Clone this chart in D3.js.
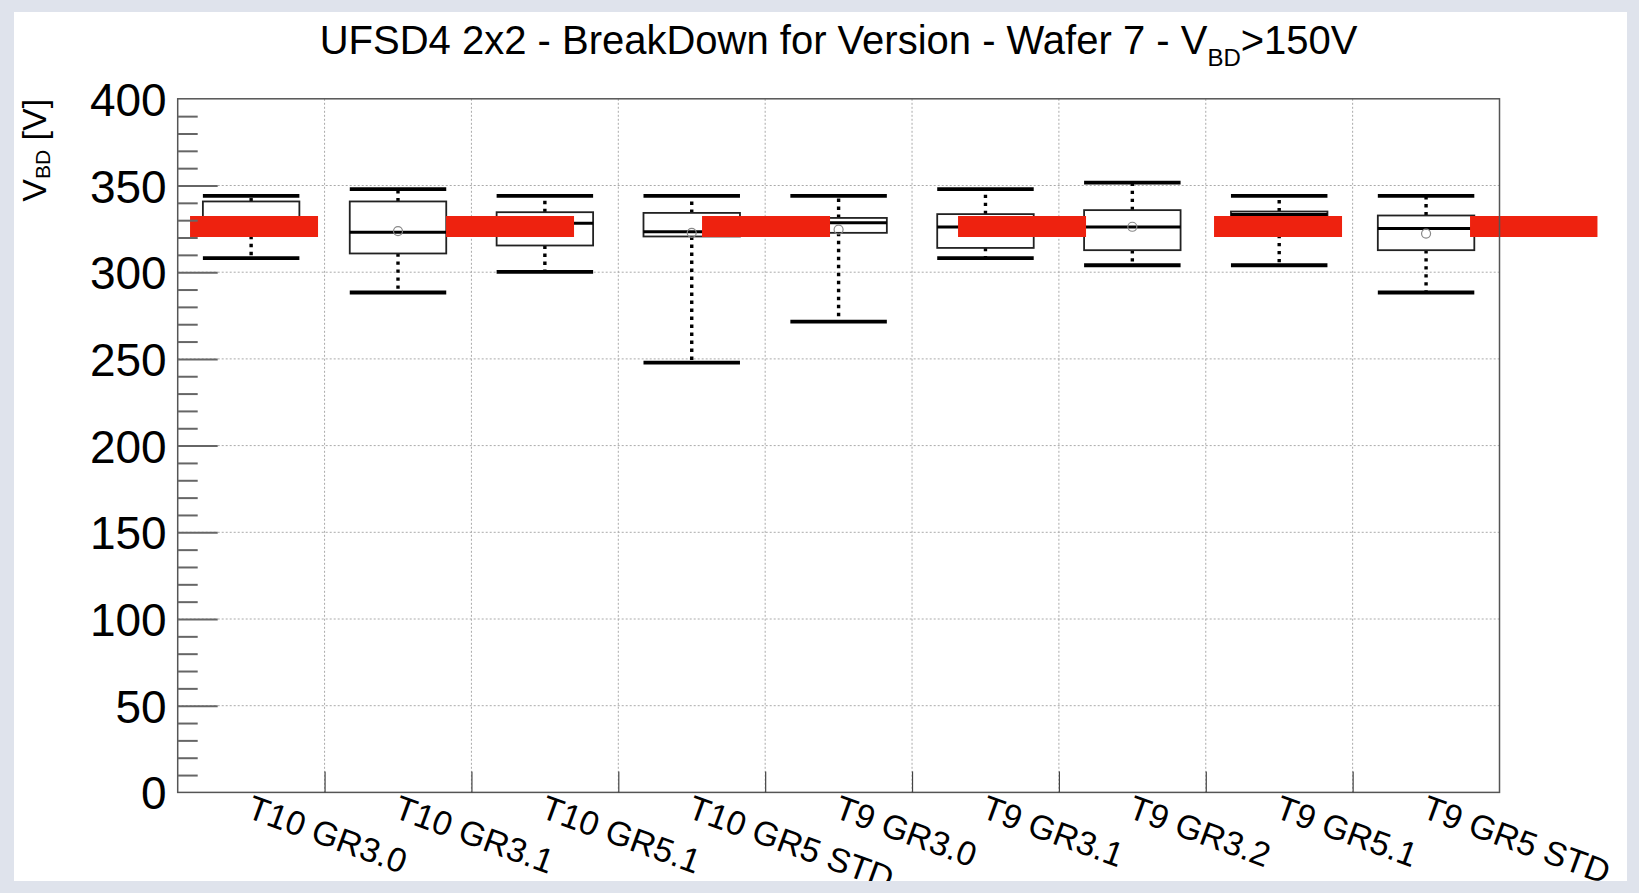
<!DOCTYPE html>
<html>
<head>
<meta charset="utf-8">
<script src="https://cdn.jsdelivr.net/npm/d3@7"></script>
<style>
  html, body { margin: 0; padding: 0; background: #dfe3ec; }
  svg { display: block; font-family: "Liberation Sans", Arial, Helvetica, sans-serif; }
</style>
</head>
<body>
<svg id="chart"></svg>
<script>
// categories (one box per design version)
const categories = ["T10 GR3.0", "T10 GR3.1", "T10 GR5.1", "T10 GR5 STD", "T9 GR3.0",
                    "T9 GR3.1", "T9 GR3.2", "T9 GR5.1", "T9 GR5 STD"];

// box statistics, V_BD in volts
const whiskerHigh = [344.0, 347.9, 344.0, 344.0, 344.0, 347.9, 351.7, 344.0, 344.0];
const q3          = [340.8, 340.8, 334.6, 334.2, 331.3, 333.5, 335.8, 335.0, 332.7];
const median      = [327.0, 323.1, 328.3, 323.3, 328.5, 326.0, 326.0, 333.3, 325.2];
const q1          = [321.0, 310.8, 315.4, 320.6, 322.7, 314.0, 312.7, 321.5, 312.7];
const whiskerLow  = [308.1, 288.3, 300.2, 247.9, 271.5, 308.1, 304.0, 304.0, 288.3];
const mean        = [326.0, 323.7, 326.0, 322.7, 324.6, 326.0, 326.2, 328.0, 322.3];

// red reference line (value, and its span in category units)
const refValue = 326.4;
const refSpan = [0.084, 9.667];

const yMajor = d3.range(0, 401, 50);
const yMinor = d3.range(0, 401, 10);

const W = 1639, H = 893;
const margin = { top: 98.8, right: 139.5, bottom: 100.6, left: 177.7 };
const width = W - margin.left - margin.right;
const height = H - margin.top - margin.bottom;

const svgBase = d3.select('#chart').attr('width', W).attr('height', H);

// white pad, everything drawn is clipped to it
svgBase.append('clipPath').attr('id', 'pad')
  .append('rect')
  .attr('x', 14).attr('y', 12)
  .attr('width', 1613).attr('height', 869);

const padG = svgBase.append('g').attr('clip-path', 'url(#pad)');

padG.append('rect')
  .attr('x', 14).attr('y', 12)
  .attr('width', 1613).attr('height', 869)
  .attr('fill', '#fff');

const svg = padG.append('g')
  .attr('transform', `translate(${margin.left},${margin.top})`);

const x = d3.scaleBand().domain(categories).range([0, width]).padding(0);
const xu = d3.scaleLinear().domain([0, categories.length]).range([0, width]);
const y = d3.scaleLinear().domain([0, 400]).range([height, 0]);

// grid
svg.append('g').selectAll('line.hgrid')
  .data(yMajor.filter(v => v > 0 && v < 400))
  .join('line')
  .attr('x1', 0).attr('x2', width)
  .attr('y1', d => y(d)).attr('y2', d => y(d))
  .attr('stroke', '#aaa').attr('stroke-width', 1).attr('stroke-dasharray', '2,2');

svg.append('g').selectAll('line.vgrid')
  .data(d3.range(1, categories.length))
  .join('line')
  .attr('x1', d => xu(d)).attr('x2', d => xu(d))
  .attr('y1', 0).attr('y2', height)
  .attr('stroke', '#aaa').attr('stroke-width', 1).attr('stroke-dasharray', '2,2');

// boxes
const boxW = x.bandwidth() * 0.657;
const boxes = svg.append('g').selectAll('g.box')
  .data(categories.map((c, i) => ({
    name: c, hi: whiskerHigh[i], q3: q3[i], med: median[i], q1: q1[i], lo: whiskerLow[i], mean: mean[i]
  })))
  .join('g')
  .attr('class', 'box')
  .attr('transform', d => `translate(${x(d.name) + x.bandwidth() / 2},0)`);

boxes.append('line')
  .attr('x1', 0).attr('x2', 0)
  .attr('y1', d => y(d.q3)).attr('y2', d => y(d.hi))
  .attr('stroke', '#000').attr('stroke-width', 3.4).attr('stroke-dasharray', '3.4,4.6');
boxes.append('line')
  .attr('x1', 0).attr('x2', 0)
  .attr('y1', d => y(d.q1)).attr('y2', d => y(d.lo))
  .attr('stroke', '#000').attr('stroke-width', 3.4).attr('stroke-dasharray', '3.4,4.6');

boxes.append('rect')
  .attr('x', -boxW / 2).attr('width', boxW)
  .attr('y', d => y(d.q3)).attr('height', d => y(d.q1) - y(d.q3))
  .attr('fill', 'none').attr('stroke', '#222').attr('stroke-width', 1.8);

boxes.append('line')
  .attr('x1', -boxW / 2).attr('x2', boxW / 2)
  .attr('y1', d => y(d.med)).attr('y2', d => y(d.med))
  .attr('stroke', '#000').attr('stroke-width', 3);

boxes.append('circle')
  .attr('cx', 0).attr('cy', d => y(d.mean)).attr('r', 4.5)
  .attr('fill', 'none').attr('stroke', '#888').attr('stroke-width', 1.2);

['hi', 'lo'].forEach(k => {
  boxes.append('line')
    .attr('x1', -boxW / 2).attr('x2', boxW / 2)
    .attr('y1', d => y(d[k])).attr('y2', d => y(d[k]))
    .attr('stroke', '#000').attr('stroke-width', 3.8);
});

// red dashed reference line
svg.append('line')
  .attr('x1', xu(refSpan[0])).attr('x2', xu(refSpan[1]))
  .attr('y1', y(refValue)).attr('y2', y(refValue))
  .attr('stroke', '#ee220f').attr('stroke-width', 21)
  .attr('stroke-dasharray', '128,128');

// frame
svg.append('rect')
  .attr('x', 0).attr('y', 0).attr('width', width).attr('height', height)
  .attr('fill', 'none').attr('stroke', '#555').attr('stroke-width', 1.5);

// y axis: minor then major ticks, pointing into the frame
const yMinorAxis = svg.append('g')
  .call(d3.axisLeft(y).tickValues(yMinor.filter(v => v % 50 !== 0)).tickSize(-20).tickFormat(''));
yMinorAxis.select('.domain').remove();
yMinorAxis.selectAll('line').attr('stroke', '#666').attr('stroke-width', 2);

const yAxis = svg.append('g')
  .call(d3.axisLeft(y).tickValues(yMajor).tickSize(-40).tickPadding(11));
yAxis.select('.domain').remove();
yAxis.selectAll('line').attr('stroke', '#666').attr('stroke-width', 2)
  .filter(d => d === 0 || d === 400).remove();
yAxis.selectAll('text')
  .attr('font-size', 46).attr('fill', '#000').attr('dy', '0.36em')
  .style('font-family', '"Liberation Sans", Arial, sans-serif');

// x axis: ticks at category boundaries, rotated labels at centers
const xTicks = svg.append('g')
  .attr('transform', `translate(0,${height})`)
  .call(d3.axisBottom(xu).tickValues(d3.range(1, categories.length)).tickSize(-21).tickFormat(''));
xTicks.select('.domain').remove();
xTicks.selectAll('line').attr('stroke', '#444').attr('stroke-width', 1.2);

const xAxis = svg.append('g')
  .attr('transform', `translate(0,${height})`)
  .call(d3.axisBottom(x).tickSize(0).tickPadding(0));
xAxis.select('.domain').remove();
xAxis.selectAll('text')
  .attr('font-size', 34).attr('fill', '#000')
  .attr('text-anchor', 'start')
  .attr('x', 3).attr('y', 0).attr('dy', '0.74em')
  .attr('transform', 'rotate(20)')
  .style('font-family', '"Liberation Sans", Arial, sans-serif');

// title
const title = padG.append('text')
  .attr('x', margin.left + width / 2).attr('y', 54)
  .attr('text-anchor', 'middle')
  .attr('font-size', 40).attr('fill', '#000');
title.append('tspan').text('UFSD4 2x2 - BreakDown for Version - Wafer 7 - V');
title.append('tspan').attr('font-size', 24).attr('dy', 12).text('BD');
title.append('tspan').attr('dy', -12).text('>150V');

// y axis title
const yTitle = padG.append('text')
  .attr('transform', `translate(46,${margin.top}) rotate(-90)`)
  .attr('text-anchor', 'end')
  .attr('font-size', 34).attr('fill', '#000');
yTitle.append('tspan').text('V');
yTitle.append('tspan').attr('font-size', 21).attr('dy', 4).text('BD');
yTitle.append('tspan').attr('dy', -4).text(' [V]');
</script>
</body>
</html>
